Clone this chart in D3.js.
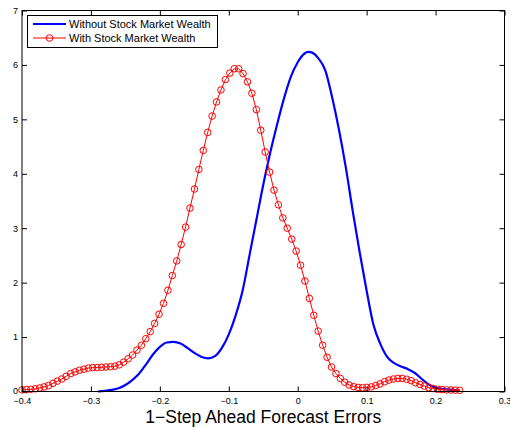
<!DOCTYPE html>
<html>
<head>
<meta charset="utf-8">
<script src="https://cdn.jsdelivr.net/npm/d3@7"></script>
<style>
  html, body { margin: 0; padding: 0; background: #fff; }
  svg { display: block; font-family: "Liberation Sans", Arial, Helvetica, sans-serif; }
</style>
</head>
<body>
<svg id="chart" width="510" height="428"></svg>
<script>
// kernel density of 1-step forecast errors
const withX = [
  -0.4000, -0.3936, -0.3872, -0.3808, -0.3743, -0.3679, -0.3615, -0.3551, -0.3487, -0.3423,
  -0.3359, -0.3294, -0.3230, -0.3166, -0.3102, -0.3038, -0.2974, -0.2910, -0.2845, -0.2781,
  -0.2717, -0.2653, -0.2589, -0.2525, -0.2461, -0.2396, -0.2332, -0.2268, -0.2204, -0.2140,
  -0.2076, -0.2012, -0.1947, -0.1883, -0.1819, -0.1755, -0.1691, -0.1627, -0.1563, -0.1498,
  -0.1434, -0.1370, -0.1306, -0.1242, -0.1178, -0.1114, -0.1049, -0.0985, -0.0921, -0.0857,
  -0.0793, -0.0729, -0.0665, -0.0600, -0.0536, -0.0472, -0.0408, -0.0344, -0.0280, -0.0216,
  -0.0152, -0.0087, -0.0023, 0.0041, 0.0105, 0.0169, 0.0233, 0.0297, 0.0362, 0.0426,
  0.0490, 0.0554, 0.0618, 0.0682, 0.0746, 0.0811, 0.0875, 0.0939, 0.1003, 0.1067,
  0.1131, 0.1195, 0.1260, 0.1324, 0.1388, 0.1452, 0.1516, 0.1580, 0.1644, 0.1709,
  0.1773, 0.1837, 0.1901, 0.1965, 0.2029, 0.2093, 0.2158, 0.2222, 0.2286, 0.2350
];
const withY = [
  0.030, 0.035, 0.040, 0.050, 0.065, 0.085, 0.110, 0.150, 0.190, 0.230,
  0.280, 0.330, 0.360, 0.390, 0.410, 0.430, 0.440, 0.440, 0.445, 0.450,
  0.455, 0.465, 0.490, 0.540, 0.600, 0.670, 0.760, 0.850, 0.970, 1.100,
  1.250, 1.420, 1.620, 1.860, 2.130, 2.400, 2.700, 3.020, 3.370, 3.720,
  4.080, 4.430, 4.760, 5.060, 5.320, 5.540, 5.730, 5.850, 5.930, 5.930,
  5.840, 5.690, 5.480, 5.180, 4.800, 4.400, 4.030, 3.700, 3.430, 3.190,
  3.000, 2.800, 2.580, 2.320, 2.030, 1.710, 1.400, 1.110, 0.850, 0.630,
  0.450, 0.330, 0.240, 0.170, 0.120, 0.090, 0.075, 0.070, 0.075, 0.085,
  0.110, 0.140, 0.180, 0.210, 0.230, 0.240, 0.240, 0.225, 0.200, 0.160,
  0.130, 0.100, 0.070, 0.055, 0.040, 0.035, 0.030, 0.028, 0.025, 0.022
];

const withoutX = [
  -0.290, -0.280, -0.270, -0.260, -0.250, -0.240, -0.230, -0.220, -0.210, -0.200,
  -0.190, -0.180, -0.170, -0.160, -0.150, -0.140, -0.130, -0.120, -0.110, -0.100,
  -0.090, -0.080, -0.070, -0.060, -0.050, -0.040, -0.030, -0.020, -0.010, 0.000,
  0.010, 0.015, 0.020, 0.030, 0.040, 0.050, 0.060, 0.070, 0.080, 0.090,
  0.100, 0.110, 0.120, 0.130, 0.140, 0.150, 0.160, 0.170, 0.180, 0.190,
  0.200, 0.210, 0.220, 0.235
];
const withoutY = [
  0.000, 0.010, 0.030, 0.060, 0.120, 0.210, 0.330, 0.500, 0.680, 0.820,
  0.900, 0.910, 0.880, 0.800, 0.710, 0.640, 0.610, 0.650, 0.800, 1.050,
  1.400, 1.850, 2.500, 3.150, 3.800, 4.380, 4.900, 5.380, 5.780, 6.050,
  6.210, 6.240, 6.230, 6.120, 5.900, 5.400, 4.800, 4.100, 3.300, 2.550,
  1.850, 1.220, 0.870, 0.630, 0.520, 0.460, 0.410, 0.340, 0.230, 0.130,
  0.070, 0.050, 0.035, 0.022
];

const xTicks = [-0.4, -0.3, -0.2, -0.1, 0, 0.1, 0.2, 0.3];
const yTicks = [0, 1, 2, 3, 4, 5, 6, 7];
const seriesNames = ["Without Stock Market Wealth", "With Stock Market Wealth"];
const xTitle = "1\u2212Step Ahead Forecast Errors";

const svg = d3.select("#chart");
const L = 22, R = 504.5, T = 10.5, B = 391.5;

const x = d3.scaleLinear().domain([-0.4, 0.3]).range([L, R]);
const y = d3.scaleLinear().domain([0, 7]).range([B, T]);

const fmt = d => d === 0 ? "0" : (d < 0 ? "\u2212" + d3.format(".1f")(-d) : d3.format(".1f")(d));

// curves
const withoutData = withoutX.map((v, i) => [v, withoutY[i]]);
const withData = withX.map((v, i) => [v, withY[i]]);

const gPlot = svg.append("g");

gPlot.append("path")
    .datum(withoutData)
    .attr("fill", "none")
    .attr("stroke", "#0000ff")
    .attr("stroke-width", 2.2)
    .attr("stroke-linejoin", "round")
    .attr("d", d3.line().x(d => x(d[0])).y(d => y(d[1])).curve(d3.curveMonotoneX));

gPlot.append("path")
    .datum(withData)
    .attr("fill", "none")
    .attr("stroke", "#ff0000")
    .attr("stroke-width", 1)
    .attr("d", d3.line().x(d => x(d[0])).y(d => y(d[1])));

gPlot.selectAll("circle.m")
    .data(withData)
    .join("circle")
    .attr("class", "m")
    .attr("cx", d => x(d[0]))
    .attr("cy", d => y(d[1]))
    .attr("r", 3.3)
    .attr("fill", "none")
    .attr("stroke", "#ff0000")
    .attr("stroke-width", 1);

// axes (MATLAB style: inward ticks on all four sides)
const gx = svg.append("g")
    .attr("transform", `translate(0,${B})`)
    .call(d3.axisBottom(x).tickValues(xTicks).tickFormat(fmt).tickSizeInner(-5).tickSizeOuter(0).tickPadding(6));
const gxt = svg.append("g")
    .attr("transform", `translate(0,${T})`)
    .call(d3.axisTop(x).tickValues(xTicks).tickFormat("").tickSizeInner(-5).tickSizeOuter(0));
const gy = svg.append("g")
    .attr("transform", `translate(${L},0)`)
    .call(d3.axisLeft(y).tickValues(yTicks).tickFormat(d3.format("d")).tickSizeInner(-5).tickSizeOuter(0).tickPadding(4));
const gyr = svg.append("g")
    .attr("transform", `translate(${R},0)`)
    .call(d3.axisRight(y).tickValues(yTicks).tickFormat("").tickSizeInner(-5).tickSizeOuter(0));

[gx, gxt, gy, gyr].forEach(g => {
    g.select(".domain").remove();
    g.selectAll("line").attr("stroke", "#000");
    g.selectAll("text")
        .attr("fill", "#000")
        .attr("font-size", "9px")
        .attr("font-family", "'Liberation Sans', Arial, sans-serif");
});
// lift the "0" on the y axis a touch so it clears the first x label
gy.selectAll(".tick text").filter(d => d === 0).attr("dy", "0.2em");

svg.append("rect")
    .attr("x", L).attr("y", T)
    .attr("width", R - L).attr("height", B - T)
    .attr("fill", "none")
    .attr("stroke", "#000")
    .attr("stroke-width", 1);

// x title
svg.append("text")
    .attr("x", (L + R) / 2)
    .attr("y", 423)
    .attr("text-anchor", "middle")
    .attr("font-size", "17.5px")
    .attr("fill", "#000")
    .text(xTitle);

// legend
const lg = svg.append("g");
lg.append("rect")
    .attr("x", 27.5).attr("y", 15.5)
    .attr("width", 190).attr("height", 32)
    .attr("fill", "#fff")
    .attr("stroke", "#000")
    .attr("stroke-width", 1);

const rows = [
    { name: seriesNames[0], color: "#0000ff", width: 2.2, marker: false, yy: 24 },
    { name: seriesNames[1], color: "#ff0000", width: 1, marker: true, yy: 38 }
];
rows.forEach(r => {
    lg.append("line")
        .attr("x1", 33).attr("x2", 66)
        .attr("y1", r.yy).attr("y2", r.yy)
        .attr("stroke", r.color)
        .attr("stroke-width", r.width);
    if (r.marker) {
        lg.append("circle")
            .attr("cx", 49.5).attr("cy", r.yy).attr("r", 3.3)
            .attr("fill", "none").attr("stroke", r.color).attr("stroke-width", 1);
    }
    lg.append("text")
        .attr("x", 69).attr("y", r.yy + 4)
        .attr("font-size", "11px")
        .attr("fill", "#000")
        .text(r.name);
});
</script>
</body>
</html>
